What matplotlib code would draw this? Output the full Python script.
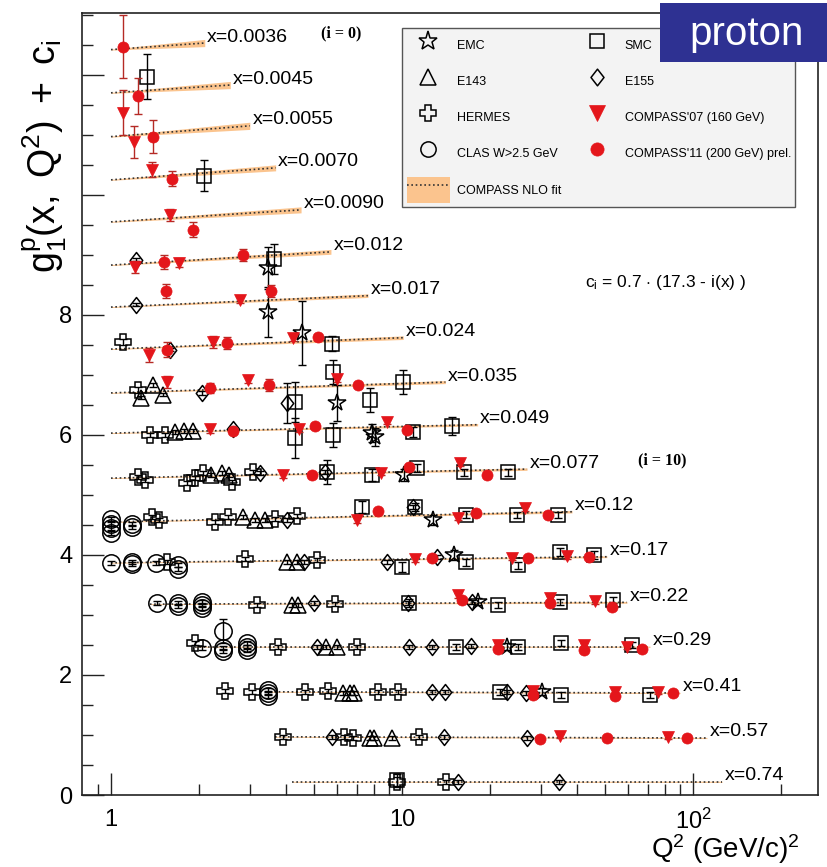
import matplotlib
matplotlib.use('Agg')
import matplotlib.pyplot as plt
from matplotlib.patches import Rectangle, Patch
from matplotlib.lines import Line2D
from matplotlib.path import Path
from matplotlib.ticker import FixedLocator, NullFormatter, FixedFormatter

plt.rcParams['font.family'] = ['Liberation Sans', 'DejaVu Sans']
plt.rcParams['mathtext.fontset'] = 'custom'
plt.rcParams['mathtext.rm'] = 'Liberation Sans'
plt.rcParams['mathtext.it'] = 'Liberation Sans:italic'

# ---------------- data (plotted value = g1p + c_i) ----------------
x_bins = ['0.0036', '0.0045', '0.0055', '0.0070', '0.0090', '0.012', '0.017', '0.024', '0.035',
          '0.049', '0.077', '0.12', '0.17', '0.22', '0.29', '0.41', '0.57', '0.74']

fit_q2_lo = [1.0, 1.0, 1.0, 1.0, 1.0, 1.0, 1.0, 1.0, 1.0, 1.0, 1.0, 1.0, 1.0, 1.36, 1.95, 3.4, 3.66, 4.2]
fit_y_lo = [12.42, 11.70, 10.97, 10.25, 9.55, 8.83, 8.13, 7.43, 6.70, 6.03, 5.28, 4.55, 3.87, 3.18,
            2.47, 1.72, 0.97, 0.22]
fit_q2_hi = [2.1, 2.57, 3.0, 3.68, 4.5, 5.7, 7.64, 10.1, 14.1, 18.2, 26.9, 38.4, 50.6, 59.3, 71.2,
             90.3, 111.7, 126.0]
fit_y_hi = [12.53, 11.83, 11.15, 10.45, 9.75, 9.05, 8.32, 7.62, 6.88, 6.17, 5.43, 4.72, 3.97, 3.21,
            2.47, 1.70, 0.95, 0.22]
fit_band = [0.06, 0.06, 0.06, 0.05, 0.05, 0.04, 0.03, 0.03, 0.025, 0.02, 0.02, 0.02, 0.015, 0.015,
            0.01, 0.01, 0.01, 0.01]

# (Q2, value, error)
emc_points = [(3.46, 8.78, 0.35), (3.46, 8.05, 0.42), (4.53, 7.70, 0.53), (5.98, 6.53, 0.30),
              (7.9, 6.03, 0.15), (8.1, 5.97, 0.15), (10.2, 5.33, 0.10), (12.8, 4.58, 0.08),
              (15.1, 4.00, 0.08), (18.3, 3.22, 0.06), (23.0, 2.47, 0.06), (30.3, 1.72, 0.06)]

smc_points = [(1.33, 11.97, 0.37), (2.09, 10.32, 0.26), (3.63, 8.93, 0.25), (5.75, 7.52, 0.12),
              (4.29, 6.55, 0.33), (5.8, 7.05, 0.20), (7.77, 6.58, 0.20), (10.1, 6.88, 0.20),
              (4.29, 5.95, 0.33), (5.8, 6.00, 0.20), (10.9, 6.05, 0.08), (14.8, 6.15, 0.15),
              (5.52, 5.38, 0.20), (7.9, 5.33, 0.10), (11.3, 5.45, 0.06), (16.4, 5.38, 0.06),
              (23.1, 5.38, 0.06), (7.3, 4.80, 0.10), (11.1, 4.80, 0.06), (16.6, 4.67, 0.06),
              (24.8, 4.67, 0.05), (34.4, 4.67, 0.05), (10.0, 3.80, 0.08), (16.6, 3.88, 0.06),
              (25.0, 3.83, 0.06), (34.9, 4.05, 0.06), (45.6, 4.00, 0.06), (10.6, 3.20, 0.06),
              (21.4, 3.17, 0.05), (34.9, 3.22, 0.05), (53.0, 3.25, 0.05), (15.3, 2.47, 0.05),
              (25.0, 2.47, 0.05), (35.2, 2.53, 0.05), (61.7, 2.50, 0.05), (21.7, 1.72, 0.05),
              (35.2, 1.67, 0.05), (71.2, 1.67, 0.05), (9.6, 0.25, 0.10)]

e143_points = [(1.27, 6.62, 0.03), (1.39, 6.83, 0.03), (1.51, 6.67, 0.03), (1.66, 6.05, 0.03),
               (1.78, 6.07, 0.03), (1.91, 6.07, 0.03), (2.20, 5.33, 0.03), (2.40, 5.37, 0.03),
               (2.55, 5.33, 0.03), (2.84, 4.63, 0.03), (3.13, 4.58, 0.03), (3.38, 4.58, 0.03),
               (4.03, 3.88, 0.03), (4.36, 3.88, 0.03), (4.19, 3.17, 0.03), (4.39, 3.17, 0.03),
               (5.5, 2.47, 0.03), (6.0, 2.47, 0.03), (6.27, 1.70, 0.03), (6.63, 1.70, 0.03),
               (6.84, 1.70, 0.03), (7.76, 0.95, 0.03), (7.99, 0.95, 0.03), (9.23, 0.95, 0.03)]

e155_points = [(1.22, 8.92, 0.03), (1.22, 8.17, 0.03), (1.60, 7.42, 0.03), (2.05, 6.70, 0.03),
               (4.03, 6.53, 0.33), (2.63, 6.10, 0.03), (3.25, 5.37, 0.03), (5.45, 5.38, 0.03),
               (4.03, 4.58, 0.03), (10.9, 4.80, 0.03), (4.6, 3.88, 0.03), (8.9, 3.88, 0.03),
               (13.2, 3.97, 0.03), (5.0, 3.20, 0.03), (10.5, 3.20, 0.03), (17.4, 3.22, 0.03),
               (5.1, 2.47, 0.03), (10.6, 2.47, 0.03), (12.7, 2.47, 0.03), (17.3, 2.48, 0.03),
               (12.7, 1.72, 0.03), (14.1, 1.72, 0.03), (23.0, 1.72, 0.03), (26.7, 1.70, 0.03),
               (5.75, 0.97, 0.03), (13.9, 0.97, 0.03), (26.9, 0.95, 0.03), (15.6, 0.22, 0.03),
               (34.6, 0.22, 0.03)]

hermes_points = [(1.10, 7.55, 0.05), (1.24, 6.75, 0.05), (1.36, 6.00, 0.04), (1.53, 6.00, 0.04),
                 (1.24, 5.30, 0.04), (1.31, 5.25, 0.04), (1.82, 5.20, 0.03), (1.94, 5.28, 0.03),
                 (2.07, 5.37, 0.03), (2.60, 5.22, 0.03), (3.08, 5.38, 0.03), (1.38, 4.63, 0.03),
                 (1.46, 4.58, 0.03), (2.28, 4.55, 0.03), (2.52, 4.63, 0.03), (3.66, 4.60, 0.03),
                 (4.36, 4.65, 0.03), (1.56, 3.88, 0.03), (2.89, 3.93, 0.03), (5.10, 3.92, 0.03),
                 (3.18, 3.17, 0.03), (5.90, 3.18, 0.03), (1.94, 2.53, 0.03), (3.75, 2.47, 0.03),
                 (7.00, 2.47, 0.03), (2.46, 1.73, 0.03), (3.05, 1.72, 0.03), (4.64, 1.72, 0.03),
                 (5.57, 1.73, 0.03), (8.30, 1.72, 0.03), (9.70, 1.72, 0.03), (3.90, 0.97, 0.03),
                 (6.30, 0.97, 0.03), (6.80, 0.95, 0.03), (11.4, 0.97, 0.03), (9.6, 0.22, 0.08),
                 (14.2, 0.22, 0.03)]

clas_points = [(1.0, 4.60, 0.03), (1.0, 4.52, 0.03), (1.0, 4.45, 0.03), (1.0, 4.37, 0.03),
               (1.18, 4.52, 0.03), (1.18, 4.47, 0.03), (1.0, 3.87, 0.03), (1.18, 3.88, 0.03),
               (1.18, 3.85, 0.03), (1.43, 3.87, 0.03), (1.70, 3.83, 0.03), (1.70, 3.77, 0.03),
               (1.44, 3.20, 0.03), (1.70, 3.20, 0.03), (1.70, 3.15, 0.03), (2.05, 3.22, 0.03),
               (2.05, 3.17, 0.03), (2.05, 3.12, 0.03), (2.05, 2.45, 0.03), (2.43, 2.45, 0.03),
               (2.43, 2.40, 0.03), (2.43, 2.73, 0.20), (2.93, 2.53, 0.03), (2.93, 2.47, 0.03),
               (2.93, 2.42, 0.03), (3.46, 1.75, 0.03), (3.46, 1.70, 0.03), (3.46, 1.65, 0.03)]

compass07_points = [(1.10, 11.37, 0.37), (1.20, 10.88, 0.26), (1.38, 10.42, 0.12), (1.60, 9.67, 0.10),
                    (1.21, 8.80, 0.10), (1.71, 8.87, 0.08), (2.78, 8.25, 0.05), (1.35, 7.33, 0.12),
                    (2.24, 7.55, 0.10), (4.22, 7.62, 0.05), (1.56, 6.88, 0.10), (2.96, 6.92, 0.06),
                    (5.98, 6.93, 0.05), (2.19, 6.10, 0.06), (4.43, 6.10, 0.05), (8.85, 6.22, 0.04),
                    (3.9, 5.33, 0.05), (8.5, 5.37, 0.04), (15.8, 5.53, 0.04), (7.0, 4.58, 0.04),
                    (15.6, 4.62, 0.04), (26.5, 4.78, 0.04), (11.1, 3.93, 0.04), (23.9, 3.95, 0.04),
                    (36.9, 3.98, 0.04), (15.6, 3.33, 0.04), (32.3, 3.28, 0.04), (46.0, 3.23, 0.04),
                    (21.4, 2.50, 0.04), (42.2, 2.50, 0.04), (59.3, 2.47, 0.04), (28.2, 1.73, 0.04),
                    (53.9, 1.72, 0.04), (75.9, 1.72, 0.04), (34.9, 0.98, 0.03), (82.0, 0.97, 0.03)]

compass11_points = [(1.10, 12.47, 0.52), (1.24, 11.65, 0.30), (1.39, 10.97, 0.27), (1.62, 10.27, 0.12),
                    (1.91, 9.42, 0.12), (1.52, 8.88, 0.12), (2.84, 9.00, 0.10), (1.55, 8.40, 0.12),
                    (3.55, 8.40, 0.10), (1.56, 7.42, 0.12), (2.50, 7.53, 0.10), (5.14, 7.63, 0.05),
                    (2.19, 6.78, 0.08), (3.49, 6.83, 0.10), (7.06, 6.83, 0.05), (2.63, 6.07, 0.06),
                    (5.03, 6.15, 0.05), (10.4, 6.08, 0.05), (4.9, 5.33, 0.05), (10.6, 5.47, 0.04),
                    (19.6, 5.33, 0.04), (8.25, 4.73, 0.04), (18.0, 4.70, 0.04), (31.8, 4.67, 0.04),
                    (12.7, 3.95, 0.04), (27.1, 3.95, 0.04), (44.0, 3.97, 0.04), (16.1, 3.25, 0.04),
                    (32.3, 3.20, 0.04), (52.7, 3.13, 0.04), (21.4, 2.43, 0.04), (42.2, 2.42, 0.04),
                    (66.8, 2.43, 0.04), (28.2, 1.67, 0.04), (53.9, 1.65, 0.04), (85.4, 1.70, 0.04),
                    (29.8, 0.93, 0.03), (50.6, 0.95, 0.03), (95.4, 0.95, 0.03)]

legend_labels = ['EMC', 'E143', 'HERMES', 'CLAS W>2.5 GeV', 'COMPASS NLO fit',
                 'SMC', 'E155', "COMPASS'07 (160 GeV)", "COMPASS'11 (200 GeV) prel."]

# ---------------- style ----------------
RED = '#e4161b'
RED_ERR = '#b52a25'
BAND = '#fbc48e'
DOT = (0, (1.0, 1.6))
diamond = Path([(0, 1), (0.78, 0), (0, -1), (-0.78, 0), (0, 1)],
               [Path.MOVETO, Path.LINETO, Path.LINETO, Path.LINETO, Path.CLOSEPOLY])

W, H = 827, 867
fig = plt.figure(figsize=(W / 100, H / 100), dpi=100)
ax = fig.add_axes([82 / W, 72 / H, 736 / W, 782 / H])
ax.set_xscale('log')
ax.set_xlim(0.795, 269)
ax.set_ylim(0, 13.03)

# fit lines + bands + labels
for i, lab in enumerate(x_bins):
    q = [fit_q2_lo[i], fit_q2_hi[i]]
    yv = [fit_y_lo[i], fit_y_hi[i]]
    w = fit_band[i]
    ax.fill_between(q, [yv[0] - 0.008, yv[1] - w], [yv[0] + 0.008, yv[1] + w],
                    color=BAND, lw=0, zorder=1)
    ax.plot(q, yv, color='#333333', lw=1.2, ls=DOT, zorder=2)
    ax.text(q[1] * 1.02, yv[1] + 0.1, 'x=' + lab, fontsize=14, ha='left', va='center', zorder=6)


def draw(points, marker, ms, face, edge, ecol, z, mew=1.1):
    q = [p[0] for p in points]
    v = [p[1] for p in points]
    e = [p[2] for p in points]
    ax.errorbar(q, v, yerr=e, fmt='none', ecolor=ecol, elinewidth=1.0, capsize=3,
                capthick=1.0, zorder=z)
    ax.plot(q, v, ls='none', marker=marker, ms=ms, mfc=face, mec=edge, mew=mew, zorder=z + 0.5)


draw(clas_points, 'o', 12.5, 'none', 'k', 'k', 3)
draw(e143_points, '^', 11, 'none', 'k', 'k', 3)
draw(e155_points, diamond, 11.5, 'none', 'k', 'k', 3)
draw(hermes_points, 'P', 11, 'none', 'k', 'k', 3)
draw(smc_points, 's', 9.5, 'none', 'k', 'k', 3)
draw(emc_points, '*', 13, 'none', 'k', 'k', 3)
draw(compass07_points, 'v', 8.5, RED, RED, RED_ERR, 4, mew=0.5)
draw(compass11_points, 'o', 8, RED, RED, RED_ERR, 4, mew=0.5)

# axes styling
for sp in ax.spines.values():
    sp.set_linewidth(1.2)
    sp.set_color('#222222')
ax.xaxis.set_major_locator(FixedLocator([1, 10, 100]))
ax.xaxis.set_major_formatter(FixedFormatter(['1', '10', r'$\mathregular{10^2}$']))
ax.xaxis.set_minor_locator(FixedLocator([0.9, 2, 3, 4, 5, 6, 7, 8, 9, 20, 30, 40, 50, 60, 70, 80, 90, 200]))
ax.xaxis.set_minor_formatter(NullFormatter())
ax.yaxis.set_major_locator(FixedLocator([0, 2, 4, 6, 8, 10, 12]))
ax.yaxis.set_major_formatter(FixedFormatter(['0', '2', '4', '6', '8', '', '']))
ax.yaxis.set_minor_locator(FixedLocator([0.5 * k for k in range(27)]))
ax.tick_params(which='major', direction='in', length=15.5, width=1.0, labelsize=17, color='#222222')
ax.tick_params(which='minor', direction='in', length=8, width=1.0, color='#222222')
ax.tick_params(axis='x', which='major', pad=10)
ax.tick_params(axis='y', which='major', pad=7)

# legend
def mk(marker, ms, face, edge, mew=1.1):
    return Line2D([], [], ls='none', marker=marker, ms=ms, mfc=face, mec=edge, mew=mew)


h_fit = (Patch(facecolor=BAND, edgecolor='none'), Line2D([], [], color='#333333', lw=1.2, ls=DOT))
handles = [mk('*', 14, 'none', 'k'), mk('^', 11, 'none', 'k'), mk('P', 11, 'none', 'k'),
           mk('o', 11, 'none', 'k'), h_fit,
           mk('s', 10, 'none', 'k'), mk(diamond, 12, 'none', 'k'), mk('v', 11, RED, RED, 0.5),
           mk('o', 9.5, RED, RED, 0.5)]
leg = ax.legend(handles, legend_labels, ncol=2, loc='upper left', bbox_to_anchor=(0.435, 0.981),
                fontsize=9, frameon=True, fancybox=False, edgecolor='#555555', facecolor='#f3f3f3',
                framealpha=1, borderpad=0.35, handlelength=3.5, handleheight=2.8, labelspacing=0.83,
                handletextpad=0.5, columnspacing=1.1, borderaxespad=0)
leg.get_frame().set_linewidth(1.0)
leg.set_zorder(8)

# annotations
ax.text(0.352, 0.974, '(i = 0)', transform=ax.transAxes, fontsize=11.5, fontweight='bold',
        family='Liberation Serif', ha='center', va='center')
ax.text(0.789, 0.428, '(i = 10)', transform=ax.transAxes, fontsize=11.5, fontweight='bold',
        family='Liberation Serif', ha='center', va='center')
ax.text(0.683, 0.656, r'c$_\mathregular{i}$ = 0.7 $\cdot$ (17.3 - i(x) )', transform=ax.transAxes,
        fontsize=12.5, ha='left', va='center')

fig.text(45 / W, 1 - 156 / H, r'$\mathregular{g_1^p(x,\ Q^2)\ +\ c_i}$', rotation=90,
         fontsize=27, ha='center', va='center')
fig.text(800 / W, 1 - 858 / H, r'$\mathregular{Q^2\ (GeV/c)^2}$', fontsize=20,
         ha='right', va='baseline')

# "proton" tag
fig.add_artist(Rectangle((660 / W, 1 - 62 / H), (W - 660) / W, 59 / H, transform=fig.transFigure,
                         facecolor='#2e3192', edgecolor='none', zorder=20))
fig.text(747 / W, 1 - 34 / H, 'proton', color='white', fontsize=29, ha='center', va='center',
         zorder=21)

fig.savefig('out.png', dpi=100)
